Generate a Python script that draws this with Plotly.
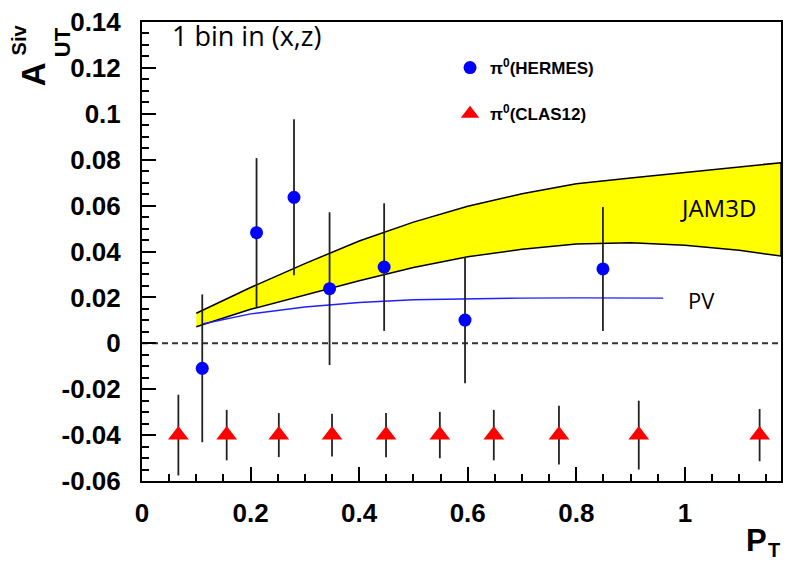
import plotly.graph_objects as go

# ---------------- data ----------------
hermes_pt = [0.111, 0.211, 0.280, 0.3455, 0.446, 0.595, 0.849]
hermes_a = [-0.0109, 0.0482, 0.0636, 0.0238, 0.0332, 0.0101, 0.0324]
hermes_err = [0.0322, 0.0325, 0.0340, 0.0333, 0.0278, 0.0275, 0.0270]

clas_pt = [0.067, 0.156, 0.252, 0.350, 0.4495, 0.5486, 0.648, 0.768, 0.915, 1.1376]
clas_a = [-0.040, -0.040, -0.040, -0.040, -0.040, -0.040, -0.040, -0.040, -0.040, -0.040]
clas_err = [0.0176, 0.0110, 0.0096, 0.0093, 0.0096, 0.0101, 0.0110, 0.0128, 0.0150, 0.0114]

jam_pt = [0.1, 0.2, 0.3, 0.4, 0.5, 0.6, 0.7, 0.8, 0.9, 1.0, 1.1, 1.177]
jam_upper = [0.0131, 0.0243, 0.0347, 0.0446, 0.0528, 0.0597, 0.0652, 0.0695, 0.0720, 0.0745, 0.0768, 0.0787]
jam_lower = [0.0072, 0.0148, 0.0210, 0.0273, 0.0330, 0.0377, 0.0410, 0.0433, 0.0438, 0.0427, 0.0405, 0.0380]

pv_pt = [0.111, 0.2, 0.3, 0.4, 0.5, 0.6, 0.7, 0.8, 0.9, 0.96]
pv_a = [0.0084, 0.0128, 0.0158, 0.0178, 0.0190, 0.0195, 0.0197, 0.0198, 0.0197, 0.0197]

x_tickvals = [0, 0.2, 0.4, 0.6, 0.8, 1.0]
x_ticktext = ["0", "0.2", "0.4", "0.6", "0.8", "1"]
y_tickvals = [-0.06, -0.04, -0.02, 0, 0.02, 0.04, 0.06, 0.08, 0.1, 0.12, 0.14]
y_ticktext = ["-0.06", "-0.04", "-0.02", "0", "0.02", "0.04", "0.06", "0.08", "0.1", "0.12", "0.14"]

# ---------------- layout constants ----------------
W, H = 786, 563
PLOT_L, PLOT_R, PLOT_T, PLOT_B = 142, 783, 22, 481   # plot frame, pixels
L, T, R, B = PLOT_L, PLOT_T, W - PLOT_R, H - PLOT_B
PW = PLOT_R - PLOT_L
PH = PLOT_B - PLOT_T


def px(xp):
    return (xp - PLOT_L) / PW


def py(yp):
    return (PLOT_B - yp) / PH


BOLD = "Liberation Sans, Arial, Helvetica, sans-serif"
CAL = "Open Sans, Lato, sans-serif"

fig = go.Figure()

# JAM3D band
fig.add_trace(go.Scatter(
    x=jam_pt + jam_pt[::-1],
    y=jam_upper + jam_lower[::-1],
    mode="lines", fill="toself", fillcolor="#ffff00",
    line=dict(color="black", width=1.5),
    showlegend=False, hoverinfo="skip",
))

# PV curve
fig.add_trace(go.Scatter(
    x=pv_pt, y=pv_a, mode="lines",
    line=dict(color="#1f1fff", width=1.4),
    showlegend=False,
))

# HERMES
fig.add_trace(go.Scatter(
    x=hermes_pt, y=hermes_a, mode="markers",
    name="π<sup>0</sup>(HERMES)", legendgroup="h",
    marker=dict(symbol="circle", size=13, color="#0000ff"),
    error_y=dict(type="data", array=hermes_err, color="#222222", thickness=1.8, width=0),
))

# CLAS12
fig.add_trace(go.Scatter(
    x=clas_pt, y=clas_a, mode="markers",
    name="π<sup>0</sup>(CLAS12)", legendgroup="c",
    marker=dict(symbol="triangle-up", size=18, color="#ff0000"),
    error_y=dict(type="data", array=clas_err, color="#222222", thickness=1.8, width=0),
))

axis_common = dict(
    showline=True, linecolor="black", linewidth=2, mirror=True,
    ticks="inside", tickcolor="black", tickwidth=1.5, ticklen=14,
    showgrid=False, zeroline=False, ticklabeloverflow="allow",
    tickfont=dict(family=BOLD, size=26, color="black", weight="bold"),
)

fig.update_xaxes(
    range=[0, 1.177], tickmode="array", tickvals=x_tickvals, ticktext=x_ticktext,
    minor=dict(ticks="inside", tick0=0, dtick=0.05, ticklen=7, tickcolor="black", tickwidth=1.5),
    ticklabelstandoff=8,
    **axis_common,
)
fig.update_yaxes(
    range=[-0.06, 0.14], tickmode="array", tickvals=y_tickvals, ticktext=y_ticktext,
    minor=dict(ticks="inside", tick0=0, dtick=0.005, ticklen=7, tickcolor="black", tickwidth=1.5),
    ticklabelstandoff=14,
    **axis_common,
)

shapes = [dict(type="line", xref="paper", yref="y", x0=0, x1=1, y0=0, y1=0,
               line=dict(color="#333333", width=2, dash="6px,4px"), layer="below")]

annotations = [
    dict(text="1 bin in (x,z)", x=px(170), y=py(36), xanchor="left", yanchor="middle",
         font=dict(family=CAL, size=27, color="black")),
    dict(text="JAM3D", x=px(680), y=py(207), xanchor="left", yanchor="middle",
         font=dict(family=CAL, size=24, color="black")),
    dict(text="PV", x=px(688), y=py(300), xanchor="left", yanchor="middle",
         font=dict(family=CAL, size=22, color="black")),
    dict(text="A", x=px(34), y=py(74), textangle=-90, xanchor="center", yanchor="middle",
         font=dict(family=BOLD, size=33, color="black", weight="bold")),
    dict(text="Siv", x=px(19), y=py(40), textangle=-90, xanchor="center", yanchor="middle",
         font=dict(family=BOLD, size=20, color="black", weight="bold")),
    dict(text="UT", x=px(62), y=py(42), textangle=-90, xanchor="center", yanchor="middle",
         font=dict(family=BOLD, size=22, color="black", weight="bold")),
    dict(text="P", x=px(758), y=py(540), xanchor="center", yanchor="middle",
         font=dict(family=BOLD, size=31, color="black", weight="bold")),
    dict(text="T", x=px(776), y=py(550), xanchor="center", yanchor="middle",
         font=dict(family=BOLD, size=20, color="black", weight="bold")),
]
for a in annotations:
    a.update(xref="paper", yref="paper", showarrow=False)

fig.update_layout(
    width=W, height=H,
    margin=dict(l=L, r=R, t=T, b=B, pad=0),
    paper_bgcolor="white", plot_bgcolor="white",
    shapes=shapes, annotations=annotations,
    showlegend=True,
    legend=dict(x=px(451), y=py(50), xanchor="left", yanchor="top",
                bgcolor="rgba(0,0,0,0)", borderwidth=0,
                font=dict(family=BOLD, size=17, color="black", weight="bold"),
                tracegroupgap=21, itemsizing="trace"),
)

# remove the default page margin so the figure sits at the window's top-left corner
fig.write_html(
    "out.html",
    config={"displayModeBar": False},
    post_script="document.body.style.margin='0';document.body.style.overflow='hidden';",
)
